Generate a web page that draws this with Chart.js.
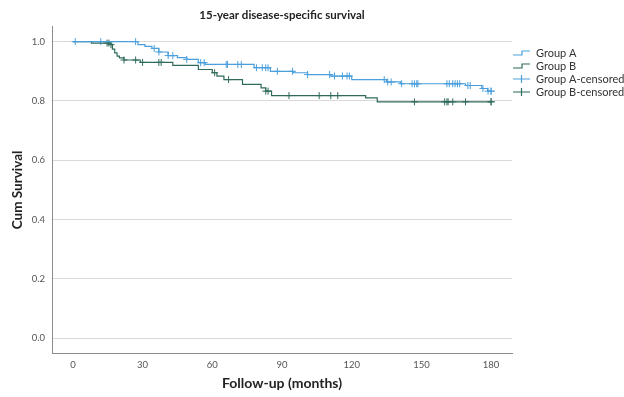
<!DOCTYPE html>
<html>
<head>
<meta charset="utf-8">
<script src="https://cdn.jsdelivr.net/npm/chart.js@4"></script>
<style>
  html, body { margin: 0; padding: 0; background: #fff; }
  #wrap { width: 624px; height: 397px; }
</style>
</head>
<body>
<div id="wrap"><canvas id="kmChart"></canvas></div>
<script>
// Kaplan-Meier step points (time in months, cumulative survival)
const timesA = [0, 28, 31, 34, 37, 41, 45, 49, 54, 57, 78, 85, 95, 101, 111, 120, 135, 141, 169, 176, 178.5, 180];
const survA = [1.0, 0.99, 0.984, 0.977, 0.965, 0.953, 0.946, 0.94, 0.929, 0.923, 0.912, 0.9, 0.895, 0.889, 0.884, 0.872, 0.864, 0.858, 0.852, 0.842, 0.833, 0.833];

const timesB = [0, 8, 16, 17, 18, 19, 20, 22, 29, 43, 54, 60, 62, 65, 73, 81, 83, 85.5, 126, 131, 180];
const survB = [1.0, 0.995, 0.99, 0.975, 0.962, 0.951, 0.945, 0.938, 0.93, 0.92, 0.906, 0.895, 0.884, 0.872, 0.856, 0.844, 0.833, 0.818, 0.81, 0.797, 0.797];

// censored observations (months)
const censorA = [1, 12, 27, 35, 37, 41, 43, 49, 55, 56.5, 66, 66.5, 71, 72.5, 79, 81.5, 83, 84, 88, 94.5, 101, 110.5, 112.6, 116, 118, 119, 134, 135.5, 137, 141.5, 146, 147, 148, 148.5, 161, 162, 163.5, 164.5, 165.5, 166.5, 170, 171, 176.5, 178.7, 180, 180];
const censorB = [14.7, 15.5, 16.4, 22, 27, 30, 37, 38, 61, 67, 83, 84, 93, 106, 111, 114, 147, 160, 161, 161.5, 163.5, 169, 180, 180];

const xTicks = [0, 30, 60, 90, 120, 150, 180];
const legendLabels = ['Group A', 'Group B', 'Group A-censored', 'Group B-censored'];

const colorA = '#4a9fdc';
const colorB = '#2f6b5c';

function survAt(times, surv, t) {
  let s = surv[0];
  for (let i = 0; i < times.length; i++) {
    if (times[i] <= t) s = surv[i];
  }
  return s;
}

const curveA = timesA.map((t, i) => ({ x: t, y: survA[i] }));
const curveB = timesB.map((t, i) => ({ x: t, y: survB[i] }));
const marksA = censorA.map(t => ({ x: t, y: survAt(timesA, survA, t) }));
const marksB = censorB.map(t => ({ x: t, y: survAt(timesB, survB, t) }));

const FONT = 'Lato, "Open Sans", sans-serif';

// legend drawn at the right, SPSS style
const kmLegend = {
  id: 'kmLegend',
  afterDraw(chart) {
    const ctx = chart.ctx;
    const x0 = 513, x1 = 530, tx = 536;
    const rows = [53, 66, 79, 92];
    const cols = [colorA, colorB, colorA, colorB];
    ctx.save();
    ctx.lineWidth = 1.2;
    rows.forEach((y, i) => {
      ctx.strokeStyle = cols[i];
      ctx.beginPath();
      if (i < 2) {
        ctx.moveTo(x0, y + 2);
        ctx.lineTo(x0 + 9, y + 2);
        ctx.lineTo(x0 + 9, y - 2);
        ctx.lineTo(x1, y - 2);
      } else {
        ctx.moveTo(x0, y);
        ctx.lineTo(x1, y);
        ctx.moveTo(x0 + 8.5, y - 4);
        ctx.lineTo(x0 + 8.5, y + 4);
      }
      ctx.stroke();
      ctx.fillStyle = '#333';
      ctx.font = '11px ' + FONT;
      ctx.textBaseline = 'middle';
      ctx.fillText(legendLabels[i], tx, y);
    });
    ctx.restore();
  }
};

new Chart(document.getElementById('kmChart'), {
  type: 'line',
  data: {
    datasets: [
      {
        label: legendLabels[0],
        data: curveA,
        borderColor: colorA,
        borderWidth: 1.2,
        stepped: true,
        pointRadius: 0
      },
      {
        label: legendLabels[1],
        data: curveB,
        borderColor: colorB,
        borderWidth: 1.2,
        stepped: true,
        pointRadius: 0
      },
      {
        label: legendLabels[2],
        data: marksA,
        showLine: false,
        pointStyle: 'cross',
        pointRadius: 3.5,
        pointBorderWidth: 1,
        pointBorderColor: colorA,
        borderColor: colorA
      },
      {
        label: legendLabels[3],
        data: marksB,
        showLine: false,
        pointStyle: 'cross',
        pointRadius: 3.5,
        pointBorderWidth: 1,
        pointBorderColor: colorB,
        borderColor: colorB
      }
    ]
  },
  options: {
    responsive: true,
    maintainAspectRatio: false,
    animation: false,
    layout: { padding: { top: 6, right: 112, bottom: 0, left: 0 } },
    scales: {
      x: {
        type: 'linear',
        min: -9,
        max: 189,
        afterFit: s => { s.height = 44; },
        afterBuildTicks: s => { s.ticks = xTicks.map(v => ({ value: v })); },
        grid: { display: false, drawTicks: false },
        border: { display: true, color: '#8c8c8c', width: 1 },
        ticks: {
          color: '#555',
          font: { family: FONT, size: 9.5 },
          padding: 6,
          maxRotation: 0
        },
        title: {
          display: true,
          text: 'Follow-up (months)',
          color: '#222',
          font: { family: FONT, size: 14, weight: 'bold' },
          padding: { top: 0, bottom: 5 }
        }
      },
      y: {
        min: -0.05,
        max: 1.05,
        afterFit: s => { s.width = 52; },
        grid: { color: '#d9d9d9', lineWidth: 1, drawTicks: false },
        border: { display: true, color: '#8c8c8c', width: 1 },
        ticks: {
          stepSize: 0.2,
          includeBounds: false,
          color: '#555',
          font: { family: FONT, size: 9.5 },
          padding: 7,
          callback: v => Number(v).toFixed(1)
        },
        title: {
          display: true,
          text: 'Cum Survival',
          color: '#222',
          font: { family: FONT, size: 13.5, weight: 'bold' },
          padding: { top: 10, bottom: 0 }
        }
      }
    },
    plugins: {
      legend: { display: false },
      tooltip: { enabled: false },
      title: {
        display: true,
        fullSize: false,
        text: '15-year disease-specific survival',
        color: '#222',
        font: { family: FONT, size: 11.5, weight: 'bold' },
        padding: { top: 2, bottom: 5 }
      }
    }
  },
  plugins: [kmLegend]
});
</script>
</body>
</html>
